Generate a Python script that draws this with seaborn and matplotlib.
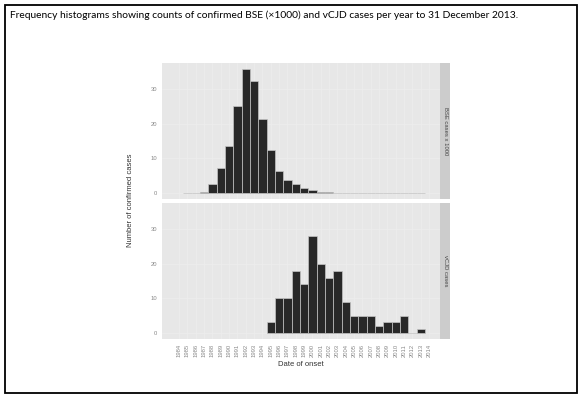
import numpy as np
import pandas as pd
import matplotlib
matplotlib.use("Agg")
import matplotlib.pyplot as plt
from matplotlib.patches import Rectangle
import seaborn as sns

# Data
bse_years = list(range(1985, 2014))
bse_cases = [0.0, 0.05, 0.2, 2.5, 7.2, 13.7, 25.2, 35.8, 32.4, 21.3, 12.5, 6.4, 3.6,
             2.5, 1.5, 0.7, 0.3, 0.1, 0.0, 0.0, 0.0, 0.0, 0.0, 0.0, 0.0, 0.0, 0.0, 0.0, 0.0]
vcjd_years = list(range(1995, 2014))
vcjd_cases = [3, 10, 10, 18, 14, 28, 20, 16, 18, 9, 5, 5, 5, 2, 3, 3, 5, 0, 1]

tick_years = list(range(1984, 2015))
y_ticks = [0, 10, 20, 30]
strip_labels = ["BSE cases x 1000", "vCJD cases"]

title = "Frequency histograms showing counts of confirmed BSE (\u00d71000) and vCJD cases per year to 31 December 2013."

sns.set_style("white")
plt.rcParams["font.family"] = ["Liberation Sans", "DejaVu Sans"]

fig = plt.figure(figsize=(5.82, 4.0), dpi=100)

# frame around the slide
fig.patches.append(Rectangle((5 / 582, 7 / 400), 572 / 582, 388 / 400, transform=fig.transFigure,
                             fill=False, edgecolor="black", linewidth=1.3))
fig.text(10 / 582, 1 - 15 / 400, title, fontsize=7.4, family=["Lato", "DejaVu Sans"],
         va="center", ha="left", color="black")

left, width = 162 / 582, 278 / 582
strip_w = 10 / 582
panels = [(1 - 199 / 400, 136 / 400), (1 - 339 / 400, 136 / 400)]

ymax = max(max(bse_cases), max(vcjd_cases))
ylim = (-0.05 * ymax, ymax * 1.05)
xlim = (1981.95, 2015.3)

series = [(bse_years, bse_cases), (vcjd_years, vcjd_cases)]
axes = []
for i, ((yrs, vals), (bottom, height)) in enumerate(zip(series, panels)):
    ax = fig.add_axes([left, bottom, width, height])
    ax.set_facecolor("#e7e7e7")
    df = pd.DataFrame({"year": yrs, "cases": vals})
    sns.histplot(data=df, x="year", weights="cases", discrete=True, ax=ax,
                 color="#282828", alpha=1, edgecolor="#c4c4c4", linewidth=0.5)
    ax.set_xlim(xlim)
    ax.set_ylim(ylim)
    ax.set_xticks(tick_years)
    ax.set_yticks(y_ticks)
    ax.set_axisbelow(True)
    ax.grid(True, color="#ededed", linewidth=0.5)
    for s in ax.spines.values():
        s.set_visible(False)
    ax.tick_params(axis="both", length=2, width=0.4, color="#999999",
                   labelcolor="#888888", labelsize=4.2, pad=1.5)
    ax.set_yticklabels([str(t) for t in y_ticks])
    if i == 0:
        ax.tick_params(axis="x", labelbottom=False, length=0)
    else:
        ax.set_xticklabels([str(t) for t in tick_years], rotation=90)
    ax.set_xlabel("")
    ax.set_ylabel("")
    # strip on the right
    sax = fig.add_axes([left + width, bottom, strip_w, height])
    sax.set_facecolor("#cccccc")
    sax.set_xticks([])
    sax.set_yticks([])
    for s in sax.spines.values():
        s.set_visible(False)
    sax.text(0.5, 0.5, strip_labels[i], rotation=-90, ha="center", va="center",
             fontsize=4.2, color="#444444", transform=sax.transAxes)
    axes.append(ax)

fig.text(131 / 582, 1 - 200 / 400, "Number of confirmed cases", rotation=90,
         ha="center", va="center", fontsize=5.5, color="#333333")
fig.text(301 / 582, 1 - 364 / 400, "Date of onset", ha="center", va="center",
         fontsize=5.5, color="#333333")

fig.savefig("out.png", dpi=100)
